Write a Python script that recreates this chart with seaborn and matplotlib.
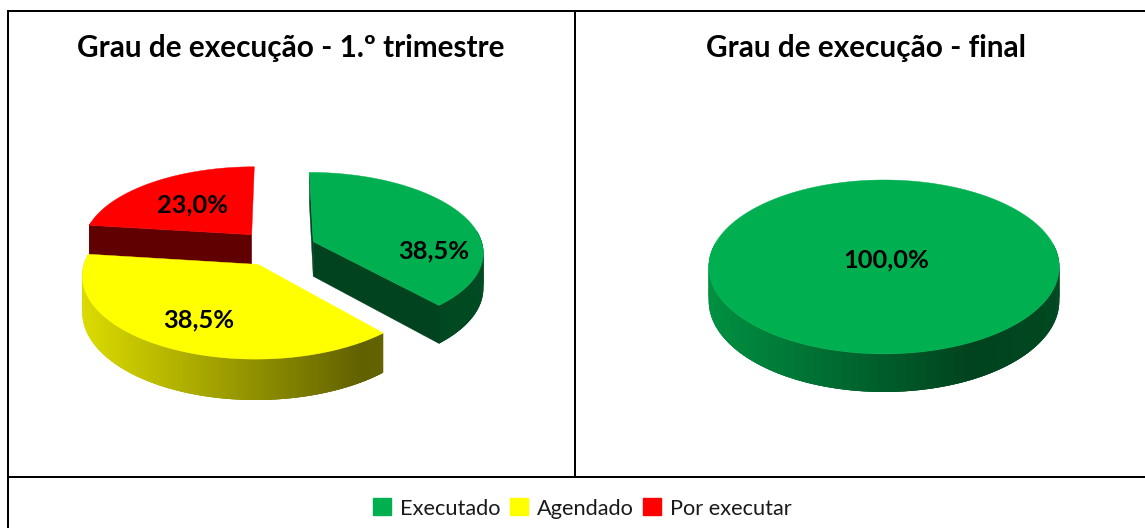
import numpy as np
import matplotlib
matplotlib.use("Agg")
import matplotlib.pyplot as plt
from matplotlib.patches import Polygon, Patch
import seaborn as sns

categories = ["Executado", "Agendado", "Por executar"]
first_quarter = [38.5, 38.5, 23.0]
final_values = [100.0, 0.0, 0.0]
titles = ["Grau de execução - 1.º trimestre", "Grau de execução - final"]

sns.set_theme(style="white")
plt.rcParams["font.family"] = ["Lato", "DejaVu Sans"]
palette = sns.color_palette(["#00B050", "#FFFF00", "#FF0000"])

W, H = 1145, 528
fig = plt.figure(figsize=(W / 100, H / 100), dpi=100)
ax = fig.add_axes([0, 0, 1, 1])
ax.set_xlim(0, W)
ax.set_ylim(H, 0)
ax.set_axis_off()

KP = 0.12  # perspective strength


def shade(t):
    """Brightness of the pie's rim across its width."""
    return np.interp(t, [0, 0.72, 1.0], [0.86, 0.38, 0.42])


def draw_pie(values, cx, cy, a, b, depth, explode, cut=0.38, start=0.0):
    def proj(u, v, z=0.0):
        s = 1.0 / (1.0 - KP * v)
        return cx + a * u * s, cy + (b * v + z * depth) * s

    total = sum(values)
    angle = np.radians(start)
    slices = []
    for val, col in zip(values, palette):
        if val <= 0:
            continue
        sweep = 2 * np.pi * val / total
        mid = angle + sweep / 2
        full = val >= total
        du = 0.0 if full else explode * np.sin(mid)
        dv = 0.0 if full else -explode * np.cos(mid)
        slices.append((dv, angle, sweep, du, col, full))
        angle += sweep

    xmin, xmax = cx - a * 1.14, cx + a * 1.14
    for dv, th0, sweep, du, col, full in sorted(slices, key=lambda s: s[0]):
        base = np.array(col)
        n = max(int(np.degrees(sweep)) * 3, 4)
        th = np.linspace(th0, th0 + sweep, n)
        us, vs = du + np.sin(th), dv - np.cos(th)
        # rim, drawn as overlapping quads so that no seams show;
        # the part that faces away from the viewer is left out
        for i in range(n - 1):
            if np.cos(th[i]) > 0.15:
                continue
            j = min(i + 3, n - 1)
            quad = [proj(us[i], vs[i]), proj(us[j], vs[j]),
                    proj(us[j], vs[j], 1.0), proj(us[i], vs[i], 1.0)]
            xm = 0.5 * (proj(us[i], vs[i])[0] + proj(us[i + 1], vs[i + 1])[0])
            t = (xm - xmin) / (xmax - xmin)
            ax.add_patch(Polygon(quad, fc=base * shade(np.clip(t, 0, 1)), ec="none"))
        if not full:
            # only the cut faces that turn towards the viewer are drawn
            faces = [(0, -np.sin(th[0]) >= -1e-9), (-1, np.sin(th[-1]) > 1e-9)]
            for i, visible in faces:
                if not visible:
                    continue
                ends = [(du, dv), (us[i], vs[i])]
                pts = [proj(*e) for e in ends] + [proj(*e, 1.0) for e in ends[::-1]]
                ax.add_patch(Polygon(pts, fc=base * cut, ec=base * cut, lw=0.3))
        top = [proj(u, v) for u, v in zip(us, vs)]
        if not full:
            top = [proj(du, dv)] + top
        ax.add_patch(Polygon(top, fc=base, ec=base, lw=0.3))


def pct(v):
    return f"{v:.1f}".replace(".", ",") + "%"


draw_pie(first_quarter, cx=277, cy=248, a=170, b=79, depth=35, explode=0.23)
draw_pie(final_values, cx=884, cy=256.5, a=174, b=85.7, depth=33.5, explode=0.0)

label_pos_left = [(434, 251), (199, 320), (193, 205)]
for v, (x, y) in zip(first_quarter, label_pos_left):
    ax.text(x, y, pct(v), ha="center", va="center", fontsize=18.3, fontweight="bold", color="black")
ax.text(886, 260, pct(final_values[0]), ha="center", va="center", fontsize=18.3,
        fontweight="bold", color="black")

for x, t in zip((291, 866), titles):
    ax.text(x, 48, t, ha="center", va="center", fontsize=21.45, fontweight="bold", color="black")

line = dict(color="black", lw=1.44, solid_capstyle="butt")
ax.plot([8, 8], [10, H], **line)
ax.plot([7, W], [11, 11], **line)
ax.plot([7, W], [477, 477], **line)
ax.plot([575, 575], [11, 477], **line)

handles = [Patch(fc=c, ec=c, label=n) for c, n in zip(palette, categories)]
ax.legend(handles=handles, ncol=3, loc="center", bbox_to_anchor=(582.5 / W, 1 - 508.5 / H),
          frameon=False, fontsize=15.7, handlelength=0.82, handleheight=0.82,
          handletextpad=0.42, columnspacing=0.42, borderpad=0, labelcolor="#1a1a1a")

fig.savefig("out.png", dpi=100)
